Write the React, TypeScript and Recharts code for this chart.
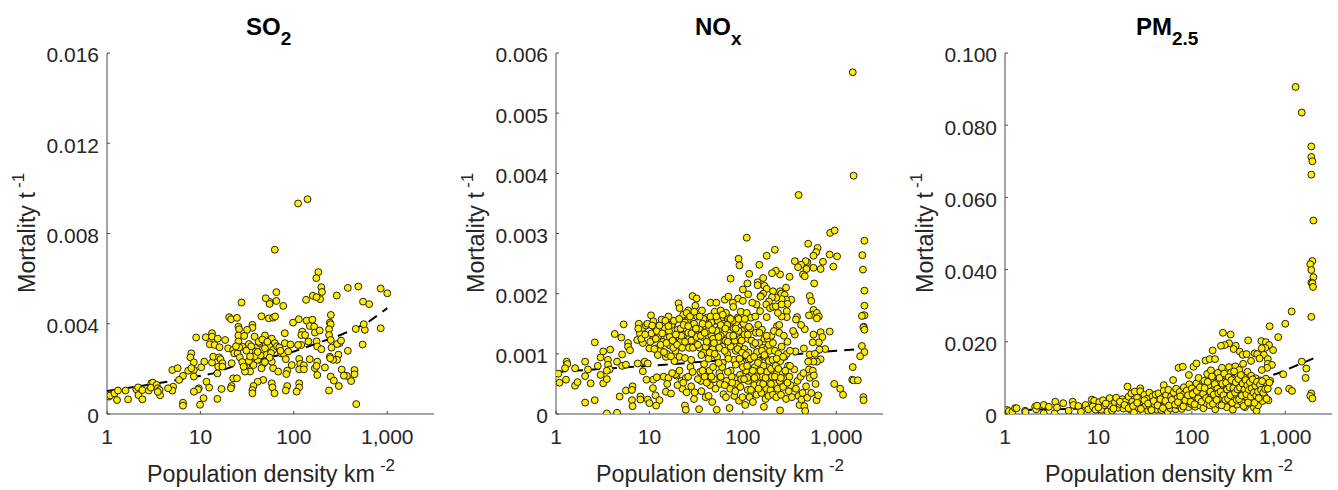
import React from 'react';
import { ScatterChart, Scatter, XAxis, YAxis } from 'recharts';

// Every pair is [population density per km2, mortality per tonne x 1000]
const so2Points = [
[111,9.33],[140,9.52],[62.5,7.28],[183,6.29],[174,6.02],[197,5.62],[200,5.41],[191,5.09],[160,5.24],[175,5.18],[135,5.06],[288,5.25],[378,5.59],[490,5.65],[850,5.56],[1000,5.35],[550,4.98],[640,4.87],[850,3.8],[575,3.73],[560,3.98],[460,3.77],[545,3.08],[378,2.8],[325,1.97],[445,1.95],[445,1.76],[370,1.69],[343,1.7],[410,1.46],[465,.44],[303,1.24],[238,1.04],[248,1.66],[268,1.48],
[77,4.79],[65,5.01],[55,4.97],[55,4.88],[50,5.13],[65,5.4],[45,4.33],[54,4.24],[60,4.27],[63,4.32],[80,3.58],[27.5,4.94],[20.3,4.29],[21.3,4.2],[24.6,4.26],[25.5,3.87],[25.9,3.76],[36,3.95],[36,3.82],[31.6,3.73],[25.5,3.48],[29.4,3.46],[38,3.43],[49,3.48],[58,3.34],[62.5,3.14],[55,2.99],[80,3.14],[92,3.08],[98,4.05],[113,4.2],[137,4.14],[158,4.18],[148,3.9],[165,3.87],[168,3.61],[189,3.7],[123,3.65],[120,3.5],[132,3.5],[143,3.21],[175,3.22],[120,3.06],[111,3.06],[178,2.99],[197,2.87],[249,4.39],[243,4.05],[248,3.98],[238,3.76],[238,3.5],[248,3.28],[309,3.14],[290,3.1],[320,3.25],[253,2.94],[300,2.63],[243,2.54],[290,2.4],[263,2.4],[245,2.47],[215,2.06],[178,2.32],[148,2.43],[168,2.03],[175,2.13],[178,1.73],
[114,2.44],[117,2.22],[128,2.16],[114,1.98],[128,1.98],[95,2.17],[85,1.92],[83,1.77],[73,2.69],[78,2.66],[82,2.43],[87,2.77],[114,1.36],[114,1.18],[107,.99],[85,1.24],[82,1.04],[60,2.03],[68,1.88],[58,2.32],[47,2.22],[45,2.03],[58,1.36],[59,1.18],[62,.92],[47,1.51],[41,1.43],[37,1.24],[36,1.06],[36,.92],[31,2.17],[34,1.88],[37,2.17],[30,1.88],[30,2.25],[41,2.4],[35,2.47],
[9,3.39],[11.4,3.4],[13.3,3.58],[13.3,3.43],[12.6,3.09],[14.2,3.06],[15.3,3.34],[18.4,3.28],[16,2.96],[19.8,2.91],[22.4,2.84],[23,2.69],[25,2.69],[26.4,2.51],[25.5,3.21],[28,2.99],[31,2.81],[40,2.96],[39,2.77],[43,3.14],[49,2.91],[51,2.62],[60,2.84],[8,2.69],[7.8,2.51],[8.5,2.29],[8.5,1.95],[7.4,1.92],[8,2.03],[10.2,2.07],[11,2.32],[13.3,2.28],[13.7,2.54],[15.8,2.51],[16.4,2.43],[17.2,2.25],[15.5,2.1],[17.2,2.1],[15.2,1.8],[21.6,2.25],[8.5,1.66],[6.5,1.69],[5.9,1.51],[5,1.95],[5.7,2.03],[5.1,1.21],[5,1.04],[4.5,1.14],[11.6,1.43],[12.4,1.17],[10.8,.7],[9.6,1.14],[9.4,1.08],[8.5,.99],[15.2,.67],[16.8,1.11],[21.5,1.24],[21.2,1.14],[22.4,1.58],[24.6,1.58],[6.5,.5],[6.5,.37],[9.9,.41],
[1.05,.77],[1.08,.82],[1.2,.92],[1.28,.62],[1.31,1.04],[1.58,1.04],[1.68,.65],[2.06,1.09],[2.15,1.18],[2.17,.84],[2.39,.65],[2.39,1.06],[2.8,1.04],[2.98,1.36],[3.1,1.39],[2.95,1.17],[3.4,1.29],[3.5,1.14],[3.66,1.06],[3.7,.83],[3.5,.98],
[33,3.1],[35,3.0],[42,3.2],[46,3.3],[52,3.2],[57,2.7],[66,3.0],[70,2.95],[44,2.6],[33,2.35],[38,2.55],[55,2.5],[49,2.3],[28,2.3],[29,2.1],[34,2.55],[41,2.75],[26,2.95],[24,3.0],[72,2.8]
];
const so2Trend = [[1,1.02],[4.5,1.43],[13.7,1.8],[22,2.1],[100,2.77],[316,3.5],[600,4.02],[1000,4.69]];

const noxPoints = [
[1500,5.68],[1530,3.96],[395,3.64],[110,2.93],[860,3.01],[960,3.05],[500,2.83],[630,2.76],[610,2.69],[2000,2.88],[1900,2.64],[1930,2.4],[2000,2.05],[2000,1.8],[1950,1.64],[2000,1.64],[1880,1.63],[1970,1.45],[1950,1.44],[2000,1.4],[1880,1.13],[2000,1.03],[1800,.96],[1500,.78],[1480,.57],[1530,.56],[1700,.56],[1950,.28],[1960,.23],[1180,.32],[1100,.42],[950,.5],[850,2.65],[1020,2.62],[930,2.45],[720,2.53],[680,2.41],[570,2.63],[570,2.43],[490,2.52],[470,2.54],[420,2.48],[360,2.54],[390,2.44],[480,2.41],[440,2.32],[460,2.29],[580,2.17],[520,1.96],[540,1.88],[570,1.73],[560,1.65],[510,1.64],[620,1.68],[650,1.62],[620,1.59],[850,1.37],[680,1.36],[710,1.28],[570,1.32],[650,1.19],[560,1.19],[760,1.08],[660,1.07],[520,.99],[590,1.0],[680,.91],[620,.87],[570,.87],[500,.87],[450,1.09],[460,1.41],[420,1.48],[380,1.61],[370,1.57],[360,1.32],[365,1.04],[316,2.28],[250,2.32],[225,2.38],[205,2.34],[220,2.73],[180,2.63],[150,2.48],[117,2.33],[90,2.58],[92,2.47],[74,2.25],[112,2.17],[100,2.07],[114,1.99],[144,2.19],[144,2.14],[165,2.26],[170,2.13],[180,2.08],[210,2.04],[250,2.04],[290,2.1],[258,2.0],[280,1.98],[330,1.9],[290,1.9],[300,1.83],[260,1.91],[228,1.93],[205,1.94],[165,2.0],[155,1.96],[190,1.87],[178,1.82],[195,1.76],[210,1.78],[225,1.79],[260,1.82],[295,1.71],[295,1.61],[260,1.62],[237,1.68],[232,1.46],[245,1.48],[180,1.61],[140,1.82],[153,1.71],
[3.5,.01],[4.5,.02],[2.6,.23],[2.05,.19],[1.06,.67],[1.09,.52],[1.28,.57],[1.3,.87],[1.32,.83],[1.25,.76],[1.6,.76],[1.6,.47],[1.7,.53],[2.05,.63],[2.05,.87],[2.2,.74],[2.35,.51],[2.6,1.19],[2.8,.8],[3,.94],[3.2,1.04],[3,.65],[3.2,.51],[3.5,.58],[3.6,.9],[3.6,.82],[3.8,1.07],[3.75,.74],[3.5,.72],[4.25,1.33],[4.5,.87],[5,1.27],[5.3,1.49],[5.1,.99],[5.1,.8],[4.8,.29],[5.6,.82],[5.9,1.18],[5.9,1.12],[6.2,1.06],[5.6,.39],[6.6,.46],[6.5,.4],[6.5,.23],[6.6,.13],[7.5,.84],[7.4,1.23],[7.7,1.5],[7.9,1.34],[8.5,1.43],[9.2,1.47],[8.5,1.18],[8.9,.87],[8.5,.71],[9.6,.84],[9.3,.57],[8,.29],[8,.24],[9.6,.24],[10,.18],[10.4,1.64],[11,1.54],[11.4,1.44],[10.5,1.34],[10.8,1.23],[10,1.09],[11.8,1.09],[11,.57],[12,.61],[10.9,.43],[11.6,.31],[12.8,.23],[11.8,.14],
[12.5,1.3],[13,1.05],[13.5,1.57],[14,1.2],[14.5,1.42],[15,.95],[15.3,1.0],[15.5,1.27],[16,1.62],[16.2,1.38],[16.5,1.14],[14.2,.62],[15,.37],[16,.6],[15.5,.5],[17,.34],[17.5,1.5],[18,1.25],[18.5,.88],[19,1.05],[19.5,.64],[20,1.4],[20.5,1.84],[21,1.76],[21.5,1.2],[22,.55],[22.5,.42],[21,.95],[23,1.65],[23.5,1.32],[24,.93],[24.5,.6],[25,.36],[24,.14],[24.5,.07],[25.5,1.55],[26,1.72],[26.5,1.1],[27,1.42],[27.5,.78],[28,.9],[28.5,1.64],[29,1.96],[29.5,1.22],[30,.25],[30.5,.36],[31,1.8],[32,1.92],[32.5,1.62],[33,1.4],[34,.08],[34.5,1.1],[35,.7],[35.5,.55],[36,.38],[36.5,1.72],[37,1.28],[38,1.02],[38.5,.83],[39,.62],[40,.28],[40.5,1.45],[41,1.6],[42,1.18],[43,.92],[44,.72],[44.5,.48],[45,1.85],[46,1.3],[47,.2],[47.5,1.08],[48,.78],[49,.58],[50,1.7],[51,1.55],[52,1.85],[52.5,.07],[53,.95],[54,1.2],[55,1.4],[56,.68],[57,.5],[58,1.72],[59,1.6],[60,1.12],[61,.85],[62,.33],[63,1.35],[64,1.9],[65,1.22],[66,.28],[67,.55],[68,1.0],[70,1.95],[71,1.6],[72,.1],[73,.42],[74,.72],[75,1.45],[76,1.2],[78,1.85],[79,1.78],[80,.9],[81,.3],[82,.6],[84,1.05],[85,1.52],[86,1.32],[88,1.6],[89,1.92],[90,.45],[91,.22],[92,1.12],[93,.65],[95,1.7],[96,.85],[98,1.38],[99,.28],[100,1.88],[102,1.5],[104,1.08],[106,.15],[108,.72],[110,1.68],[112,1.25],[113,.4],[114,.55],[115,1.02],[116,.9],[118,.28],[120,1.42],[122,1.6],[124,.65],[126,1.85],[128,.2],[130,1.15],[132,.48],[134,.78],[136,1.62],[138,1.35],[140,.32],[142,1.03],[144,.7],[146,1.48],[148,.88],[150,1.18],[152,.5],[155,1.95],[158,.35],[160,1.4],[162,.62],[164,1.1],[166,.8],[168,.12],[170,1.25],[172,.95],[175,.25],[178,.42],[180,1.08],[182,.7],[185,1.25],[188,.3],[190,.88],[192,.55],[195,1.05],[198,.4],[200,.75],[202,1.3],[205,.62],[208,.9],[210,.32],[215,1.38],[218,.5],[220,1.05],[225,.8],[228,.28],[232,.68],[236,.42],[240,1.0],[245,1.35],[248,.55],[250,.06],[252,.88],[256,.32],[260,1.12],[265,.7],[270,.45],[275,1.3],[280,.95],[285,.58],[290,.25],[295,1.0],[300,1.2],[305,.8],[310,.38],[315,.62],[320,1.05],[325,.48],[335,.28],[345,1.38],[355,.74],[370,.42],[385,.55],[395,.3],[405,.15],[415,.62],[425,.24],[435,.35],[445,.68],[455,.13],[465,.05],[475,.46],[490,.27],[510,.74],[520,.6],[540,.35],[560,.72],[600,.5],[615,.23],[640,.31],[575,.64],
[16.5,1.28],[17.3,1.48],[18,1.1],[19,.66],[20,.48],[22,1.3],[24,1.52],[26,1.35],[28,1.22],[30,1.5],[32,1.28],[34,1.42],[36,.98],[38,1.58],[40,1.12],[42,1.38],[44,1.02],[46,1.52],[48,1.25],[50,1.0],[52,1.38],[54,1.55],[56,1.1],[58,1.3],[60,.78],[62,1.5],[64,1.05],[66,1.68],[68,1.48],[70,.92],[72,1.3],[74,1.12],[76,.62],[78,1.55],[80,1.42],[82,1.22],[84,.82],[86,.5],[88,1.08],[90,1.38],[92,.92],[94,1.25],[96,.58],[98,1.02],[100,.78],[104,1.32],[108,.98],[112,.6],[116,1.45],[120,.92],[124,1.22],[128,.72],[132,.95],[136,1.18],[140,.62],[145,.85],[150,1.35],[155,.72],[160,1.05],[165,.5],[170,.98],[175,.6],[180,1.3],[190,1.15],[200,.5],[210,1.18],[220,.62],[230,.92],[240,.75],[255,.6],[270,.95],[285,.72],[300,.52],[320,.8],
[7.6,1.42],[8.2,1.25],[9,1.32],[9.5,1.5],[10.2,1.2],[10.7,1.47],[11.3,1.08],[11.7,1.25],[12,1.38],[12.3,.98],[12.8,1.47],[13.2,1.15],[13.7,1.34],[14.3,1.03],[14.8,1.55],[15.2,1.18],[16,1.46],[17,.96],[17.7,1.22],[18.3,1.55],[19.2,1.32],[19.8,1.15],[20.8,1.58],[21.6,1.42],[22.4,1.1],[23.2,1.48],[24,1.2],[25,1.68],[26,1.46],[27.2,1.62],[28.2,1.34],[29.2,1.1],[30.2,1.7],[31.5,1.42],[33,1.15],[34.5,1.62],[35.5,1.3],[37,1.5],[39,1.35],[41,1.2],[43,1.48],[45,1.62],[47,1.4],[49,1.18],[52,1.62],[55,1.28],[58,1.48],[61,1.65],[65,1.42],[69,1.2],[74,1.58],[79,1.3],[84,1.42],[90,1.58],[97,1.22],[105,1.58],[113,1.32],
[17.5,.68],[21,.72],[23,.52],[26,.62],[28,.46],[29,.7],[33,.58],[37,.72],[41,.52],[43,.3],[46,.62],[51,.42],[55,.85],[58,.62],[64,.48],[69,.7],[77,.52],[83,.38],[94,.45],[103,.58],[111,.8],[122,.4],[133,.6],[147,.42]
];
const noxTrend = [[1,.7],[10,.8],[100,.92],[1000,1.05],[1800,1.08]];

const pmPoints = [
[1290,90.6],[1500,83.5],[1900,74.1],[1900,71.2],[1950,70],[1900,66.3],[2000,53.6],[1950,42.4],[1850,41.5],[1900,39.9],[2000,37.9],[1900,36.4],[1950,36.2],[1980,35.2],[1900,26.9],[1170,28.4],[1000,25],[840,21.3],[680,24.3],[1500,14.5],[1680,12.6],[1650,10],[950,11],[1100,7],[1180,6.4],[840,6.4],[1900,5.7],[1850,5],[1950,4.3],
[215,22.5],[260,22],[250,19.6],[225,19.1],[205,18.9],[295,18.9],[280,18],[400,20.4],[325,17.3],[350,16.4],[385,16.6],[555,20.2],[620,19.9],[670,19.1],[740,17.7],[610,18.3],[560,18.2],[470,16.8],[500,16.6],[590,16.4],[167,17.6],[140,14.8],[155,15.2],[177,15.2],[104,13.1],[112,14],[72,12.8],[80,13.1],[93,10.8],[63,9.4],[50,8],[20.5,7.6],[28,7.1],[650,15.2],[430,14.7],[530,15.4],[650,13.9],[720,13.6],[640,12.8],[560,12.2],[690,9.2],
[1.05,1.1],[1.1,.8],[1.2,.6],[1.28,1.6],[1.33,1.6],[1.64,.9],[1.66,.6],[2.1,2],[2.15,1.3],[2.2,2.3],[2.6,.2],[2.6,2.5],[2.95,2],[3.4,.2],[3.45,3.4],[3.6,1.8],[4.2,3],[4.8,.9],[5.3,3.4],[5.4,2.5],[6.1,2.2],[6.5,.6],[7.3,2.5],[7.8,1.3],[8.5,4],[9,3.7],[8.7,2.1],[9.3,1.2],[10.2,3.3],[10.8,1.2],[11.2,3.8],[11.7,2.4],[12.5,.7],[13.2,4.4],[13.5,2.1],[14,.9],[15,3.2],[15.5,4.5],[16.2,1.7],[16.8,2.8],[18,4.1],[18.5,1.5],[19.5,3.5],[20,2.3],[21,4.8],[22,1.2],[22.5,5.7],[23,3.4],[24,.4],[24.5,6.2],[25,2.7],[26,4.5],[27,1.7],[28,6.3],[29,3.6],[30,.5],[31,5.3],[32,2.3],[33,4.2],[34,.9],[35,5.9],[36,1.8],[37,3.2],[38,4.9],[40,2.6],[41,5.4],[42,1.2],[43,3.7],[44,5.7],[46,2.9],[47,1.1],[48,4.4],[50,6.4],[51,3.3],[52,2.1],[53,5.2],[55,.7],[56,6.7],[58,3.9],[59,1.6],[60,4.8],[62,2.7],[64,5.9],[65,3.4],[67,1.3],[68,7],[70,4.4],[72,2.3],[74,6.1],[76,3.1],[78,1.4],[80,5.3],[82,7.4],[84,2.6],[86,4.2],[88,6.5],[90,3.5],[92,1.9],[94,8.2],[96,5],[98,2.8],[100,7.1],[103,3.9],[105,6],[108,2],[110,4.8],[112,8.5],[115,3.2],[118,10],[120,5.6],[123,2.3],[126,7.7],[130,4.2],[133,1.6],[136,9.2],[140,6.4],[143,3],[146,11.1],[150,5],[153,7.9],[156,2.4],[160,12.1],[163,4.1],[166,9.8],[170,6.7],[174,3.4],[178,1.3],[182,8.6],[186,5.3],[190,11.4],[195,2.6],[200,7.5],[205,4.4],[210,12.8],[215,9.1],[220,3.2],[225,6.3],[230,10.6],[236,1.9],[240,5],[246,8.1],[250,13],[256,3.6],[262,11.5],[268,6.9],[274,1.2],[280,9.7],[286,4.6],[292,13.2],[298,7.8],[304,2.6],[310,10.9],[316,5.6],[322,12.2],[330,8.9],[338,3.4],[346,6.4],[354,13.9],[362,10.1],[370,1.9],[378,7.3],[386,4.7],[394,11.7],[402,9],[412,2.9],[422,6],[432,10.6],[442,3.9],[452,8.2],[462,1.8],[472,5.3],[482,9.9],[492,.9],[502,4.2],[512,2.4],[525,7.2],[540,9.3],[555,5.5],[570,3.6],[585,7.8],[600,4.9],[620,9.8],[640,8],[660,3.8],[675,8.7],
[10,1.8],[12,2.9],[14.5,1.5],[17,3.4],[19,2.5],[21,1.6],[23.5,2.2],[26,3.1],[28.5,1.4],[31,3.8],[34,2.9],[37,1.1],[39,3.6],[43,2.4],[46,4.1],[49,1.6],[52,3.6],[57,2.4],[61,3.9],[66,2.6],[71,3.3],[75,4.9],[81,2.1],[85,3.8],[91,5.2],[97,3.4],[102,5.5],[107,2.7],[113,6.4],[117,4.3],[122,7.4],[127,3.4],[132,5.6],[137,7.2],[142,4.4],[148,8.9],[152,3.9],[158,6.2],[164,10.4],[168,2.8],[172,5.4],[176,8.3],[184,3.9],[188,7],[192,5.8],[198,10],[203,6.2],[208,2.4],[212,8.4],[218,5.2],[222,11.2],[228,3.9],[233,8.7],[238,6.8],[244,4.2],[248,10.2],[253,7.4],[258,5.2],[265,9.4],[270,3.1],[278,7.2],[283,11.8],[290,5.9],[295,8.8],[302,3.9],[308,6.8],[314,9.7],[320,4.1],[327,7.3],[335,10.8],[342,5.1],[350,8.4],[358,2.2],[366,6.8],[375,9.4],[383,5.5],[392,7.9],[400,3.2],[408,6.7],[418,8.8],[428,4.8],[438,7.1],[448,9.6],[458,5.9],[468,3.1],[478,7.8],[488,5.1],[498,8.9],[510,6.2],[520,4.4],[535,8.1],[550,6.7],[565,9.1],[580,5.9],[610,6.9],[630,4.2],[650,7]
];
const pmTrend = [[1,1],[10,1.6],[32,2.8],[100,4.8],[225,6.6],[840,11.3],[2000,15.4]];

const X_TICKS = [1, 10, 100, 1000];
const INK = '#262626';
const AXIS = '#4a4a4a';
const FONT = '"Liberation Sans", Arial, sans-serif';

const toRows = (pts: number[][]) => pts.map(([density, milli]) => ({ density, mortality: milli / 1000 }));

const Dot = (p: any) =>
  p.cx == null ? <g /> : <circle cx={p.cx} cy={p.cy} r={3.45} fill="#ffec00" stroke="#23210c" strokeWidth={1} />;
const NoDot = () => <g />;

function Panel({ left, points, trend, yMax, yTicks, title, sub, titleX }: any) {
  return (
    <div style={{ position: 'absolute', left, top: 0, width: 440, height: 490 }}>
      <ScatterChart width={440} height={490} margin={{ top: 53, right: 6, bottom: 0, left: 0 }}>
        <XAxis
          type="number" dataKey="density" scale="log" domain={[1, 3162]} allowDataOverflow
          ticks={X_TICKS} interval={0} height={76} tickSize={-3} tickMargin={18}
          tick={{ fontSize: 21, fill: INK, fontFamily: FONT }}
          axisLine={{ stroke: AXIS, strokeWidth: 1 }} tickLine={{ stroke: AXIS, strokeWidth: 1 }}
          tickFormatter={(v: number) => v.toLocaleString('en-US')}
        />
        <YAxis
          type="number" dataKey="mortality" domain={[0, yMax]} allowDataOverflow
          ticks={yTicks} interval={0} width={107} tickSize={-3} tickMargin={11}
          tick={{ fontSize: 21, fill: INK, fontFamily: FONT, dy: 2 }}
          axisLine={{ stroke: AXIS, strokeWidth: 1 }} tickLine={{ stroke: AXIS, strokeWidth: 1 }}
          tickFormatter={(v: number) => (v === 0 ? '0' : v.toFixed(3))}
        />
        <Scatter data={toRows(trend)} shape={NoDot} isAnimationActive={false}
          line={{ stroke: '#000', strokeWidth: 2, strokeDasharray: '10 7' }} lineType="joint" />
        <Scatter data={toRows(points)} shape={Dot} isAnimationActive={false} />
        <text x={titleX} y={35} fontFamily={FONT} fontWeight="bold" fontSize={24} fill="#000">
          {title}<tspan fontSize={19} dy={10}>{sub}</tspan>
        </text>
        <text x={147} y={482} fontFamily={FONT} fontSize={23.3} fill={INK}>
          Population density km<tspan dx={5} dy={-11} fontSize={17}>-2</tspan>
        </text>
        <text transform="translate(35,293) rotate(-90)" fontFamily={FONT} fontSize={23.3} fill={INK}>
          Mortality t<tspan dx={4} dy={-11} fontSize={17}>-1</tspan>
        </text>
      </ScatterChart>
    </div>
  );
}

export default function App() {
  return (
    <div style={{ position: 'absolute', left: 0, top: 0, width: 1338, height: 490, background: '#fff', overflow: 'hidden' }}>
      <Panel left={0} points={so2Points} trend={so2Trend} yMax={0.016} yTicks={[0, 0.004, 0.008, 0.012, 0.016]} title="SO" sub="2" titleX={246} />
      <Panel left={449} points={noxPoints} trend={noxTrend} yMax={0.006} yTicks={[0, 0.001, 0.002, 0.003, 0.004, 0.005, 0.006]} title="NO" sub="x" titleX={246} />
      <Panel left={898} points={pmPoints} trend={pmTrend} yMax={0.1} yTicks={[0, 0.02, 0.04, 0.06, 0.08, 0.1]} title="PM" sub="2.5" titleX={238} />
    </div>
  );
}
